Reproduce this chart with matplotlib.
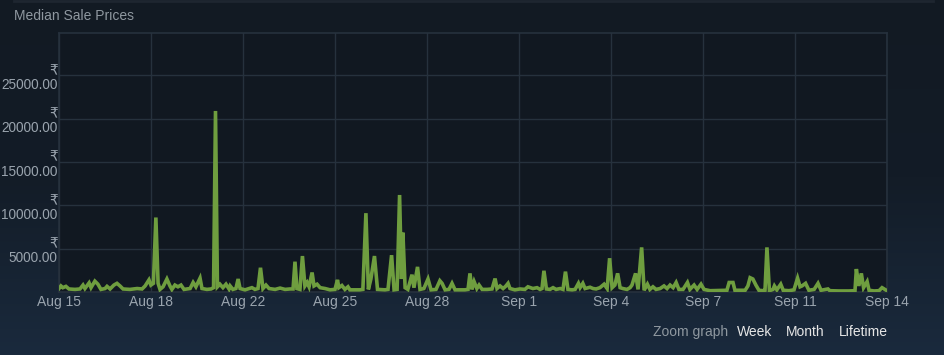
import numpy as np
import matplotlib
matplotlib.use("Agg")
import matplotlib.pyplot as plt
from matplotlib.lines import Line2D

# days since Aug 15, median price in rupees
days = [
    0.00, 0.07, 0.14, 0.25, 0.36, 0.58, 0.76, 0.87, 0.94, 1.09, 1.16, 1.30, 1.41, 1.52,
    1.67, 1.74, 1.85, 1.99, 2.10, 2.21, 2.32, 2.57, 2.83, 3.01, 3.12, 3.26, 3.33, 3.42,
    3.51, 3.59, 3.66, 3.77, 3.91, 4.02, 4.09, 4.20, 4.31, 4.42, 4.53, 4.75, 4.86, 4.96,
    5.11, 5.18, 5.36, 5.51, 5.60, 5.67, 5.74, 5.83, 5.94, 6.05, 6.16, 6.20, 6.30, 6.41,
    6.49, 6.56, 6.74, 6.99, 7.10, 7.21, 7.30, 7.39, 7.50, 7.61, 7.83, 8.01, 8.19, 8.37,
    8.48, 8.55, 8.62, 8.73, 8.82, 8.91, 8.99, 9.06, 9.17, 9.24, 9.35, 9.46, 9.64, 9.82,
    10.00, 10.09, 10.14, 10.25, 10.36, 10.47, 10.54, 10.72, 10.90, 11.01, 11.12, 11.21,
    11.30, 11.43, 11.54, 11.81, 11.92, 12.05, 12.14, 12.25, 12.34, 12.41, 12.46, 12.54,
    12.64, 12.79, 12.86, 12.99, 13.08, 13.22, 13.37, 13.48, 13.66, 13.80, 13.88, 13.99,
    14.13, 14.24, 14.35, 14.71, 14.82, 14.89, 14.96, 15.04, 15.14, 15.22, 15.33, 15.51,
    15.69, 15.80, 15.87, 15.98, 16.09, 16.18, 16.27, 16.34, 16.52, 16.70, 16.88, 16.99,
    17.17, 17.32, 17.43, 17.50, 17.57, 17.66, 17.79, 17.90, 18.01, 18.16, 18.26, 18.35,
    18.44, 18.59, 18.70, 18.82, 18.88, 18.98, 19.06, 19.24, 19.35, 19.46, 19.60, 19.75,
    19.86, 19.95, 20.04, 20.14, 20.24, 20.33, 20.43, 20.58, 20.69, 20.76, 20.89, 20.98,
    21.11, 21.20, 21.32, 21.41, 21.52, 21.63, 21.78, 21.92, 22.03, 22.14, 22.25, 22.36,
    22.46, 22.61, 22.77, 22.86, 23.01, 23.12, 23.26, 23.37, 23.59, 23.95, 24.20, 24.28,
    24.42, 24.49, 24.86, 24.96, 25.04, 25.14, 25.25, 25.36, 25.51, 25.58, 25.65, 25.74,
    25.87, 25.92, 26.01, 26.15, 26.24, 26.45, 26.63, 26.76, 26.85, 26.92, 27.05, 27.17,
    27.36, 27.50, 27.61, 27.86, 27.93, 28.26, 28.62, 28.84, 28.89, 28.98, 29.07, 29.15,
    29.28, 29.35, 29.53, 29.71, 29.82, 30.00,
]
prices = [
    400, 700, 500, 650, 350, 300, 350, 800, 400, 1050, 500, 1250, 900, 300,
    400, 650, 350, 800, 1000, 700, 350, 300, 400, 350, 700, 1400, 800, 1000,
    8600, 1000, 300, 600, 1500, 700, 300, 800, 600, 800, 300, 400, 1100, 600,
    1600, 400, 300, 350, 500, 20900, 600, 900, 500, 900, 350, 700, 300, 400,
    1500, 400, 250, 500, 300, 400, 2800, 400, 800, 400, 300, 450, 300, 350,
    350, 3500, 400, 300, 4150, 700, 1100, 600, 2250, 700, 900, 500, 400, 250,
    300, 1400, 500, 750, 300, 600, 250, 250, 250, 300, 9100, 300,
    1500, 4150, 300, 250, 300, 4250, 250, 300, 11200, 1500, 6850, 500,
    300, 2000, 500, 2900, 300, 400, 1500, 250, 300, 1300, 1000, 250,
    300, 1000, 250, 250, 300, 2150, 300, 1200, 400, 800, 300, 300,
    350, 1550, 400, 700, 400, 650, 1000, 400, 250, 350, 300, 600,
    400, 500, 300, 400, 2450, 350, 300, 500, 300, 400, 300, 2350,
    300, 250, 300, 1000, 500, 1000, 400, 550, 400, 350, 500, 900,
    400, 3900, 500, 800, 2150, 500, 400, 300, 500, 800, 2150, 300,
    5150, 200, 900, 300, 600, 300, 400, 700, 400, 800, 500, 1100,
    300, 300, 1100, 300, 800, 300, 900, 300, 150, 180, 200, 1100,
    1100, 200, 200, 700, 1650, 1500, 800, 200, 150, 200, 5150, 150,
    300, 700, 250, 900, 200, 150, 250, 1600, 600, 700, 1000, 200,
    300, 1000, 200, 350, 150, 120, 120, 150, 2650, 700, 2150, 500,
    1200, 200, 120, 150, 500, 150,
]

tick_days = np.linspace(0, 30, 10)
tick_labels = ["Aug 15", "Aug 18", "Aug 22", "Aug 25", "Aug 28",
               "Sep 1", "Sep 4", "Sep 7", "Sep 11", "Sep 14"]
y_ticks = [5000, 10000, 15000, 20000, 25000]

fonts = ["Liberation Sans", "DejaVu Sans"]
plt.rcParams["font.family"] = fonts

W, H = 944, 355
fig = plt.figure(figsize=(W / 100, H / 100), dpi=100)

# background gradient
bg = fig.add_axes([0, 0, 1, 1], zorder=-10)
grad = np.linspace(0, 1, 256).reshape(-1, 1)
cmap = matplotlib.colors.LinearSegmentedColormap.from_list("bg", ["#121a23", "#131c27", "#1a2a3d"])
bg.imshow(grad, aspect="auto", cmap=cmap, extent=[0, 1, 0, 1], origin="upper")
bg.axis("off")

fig.add_artist(Line2D([14 / W, 933 / W], [1 - 1 / H, 1 - 1 / H], color="#1e2630", lw=2))

ax = fig.add_axes([59 / W, 1 - 292 / H, (887 - 59) / W, (292 - 33) / H])
ax.set_facecolor("#111821")
ax.plot(days, prices, color="#6f9e3f", lw=2.6, solid_joinstyle="miter", zorder=3)

ax.set_xlim(0, 30)
ax.set_ylim(0, 29900)
ax.set_xticks(tick_days)
ax.set_xticklabels(tick_labels, fontsize=10)
ax.set_yticks(y_ticks)
ax.set_yticklabels(["\u20b9\n%.2f" % v for v in y_ticks], multialignment="right",
                   linespacing=1.1, fontsize=9.8)
ax.tick_params(axis="both", length=0, colors="#9aa4ae")
ax.tick_params(axis="y", pad=1)
ax.tick_params(axis="x", pad=2)
ax.grid(True, color="#26313d", lw=1)
for s in ax.spines.values():
    s.set_color("#26313d")
    s.set_linewidth(1.2)

fig.text(14 / W, 1 - 16 / H, "Median Sale Prices", color="#8f98a0", fontsize=10, va="center", ha="left")

fig.text(728 / W, 1 - 332 / H, "Zoom graph", color="#8f98a0", fontsize=10, va="center", ha="right")
fig.text(737 / W, 1 - 332 / H, "Week", color="#e6e6e6", fontsize=10, va="center", ha="left")
fig.text(786 / W, 1 - 332 / H, "Month", color="#e6e6e6", fontsize=10, va="center", ha="left")
fig.text(839 / W, 1 - 332 / H, "Lifetime", color="#e6e6e6", fontsize=10, va="center", ha="left")

fig.savefig("out.png", dpi=100, facecolor="#121a23")
